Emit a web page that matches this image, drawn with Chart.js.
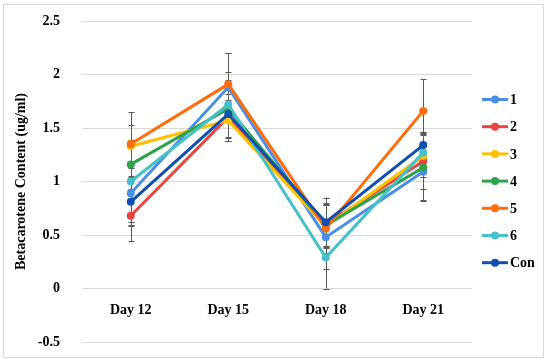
<!DOCTYPE html>
<html>
<head>
<meta charset="utf-8">
<script src="https://cdn.jsdelivr.net/npm/chart.js@4/dist/chart.umd.min.js"></script>
<style>
html,body{margin:0;padding:0;background:#fff;}
#wrap{width:550px;height:363px;position:relative;}
</style>
</head>
<body>
<div id="wrap"><canvas id="c" width="550" height="363"></canvas></div>
<script>
const categories = ['Day 12', 'Day 15', 'Day 18', 'Day 21'];
const seriesNames = ['1', '2', '3', '4', '5', '6', 'Con'];
const s1 = [0.89, 1.88, 0.48, 1.09];
const s2 = [0.68, 1.60, 0.60, 1.19];
const s3 = [1.33, 1.57, 0.58, 1.24];
const s4 = [1.16, 1.68, 0.59, 1.13];
const s5 = [1.35, 1.91, 0.56, 1.66];
const s6 = [1.00, 1.72, 0.29, 1.27];
const sCon = [0.81, 1.63, 0.62, 1.34];
const e1 = [0.30, 0.32, 0.30, 0.27];
const e2 = [0.24, 0.22, 0.20, 0.26];
const e3 = [0.20, 0.19, 0.20, 0.20];
const e4 = [0.23, 0.27, 0.19, 0.30];
const e5 = [0.30, 0.29, 0.23, 0.30];
const e6 = [0.38, 0.30, 0.29, 0.18];
const eCon = [0.23, 0.25, 0.23, 0.12];
const yTicks = [-0.5, 0, 0.5, 1, 1.5, 2, 2.5];

const colors = ['#4a8fe6', '#e8453c', '#ffc000', '#2fa24b', '#ff6d0a', '#46c1c8', '#0f4fad'];
const values = [s1, s2, s3, s4, s5, s6, sCon];
const errors = [e1, e2, e3, e4, e5, e6, eCon];

const FONT = '"Liberation Serif", "DejaVu Serif", serif';

const datasets = values.map((v, i) => ({
  label: seriesNames[i],
  data: v,
  borderColor: colors[i],
  backgroundColor: colors[i],
  borderWidth: 3,
  pointRadius: 4,
  pointBorderWidth: 0,
  pointHoverRadius: 4,
  tension: 0,
  order: values.length - 1 - i,
  errors: errors[i]
}));

const framePlugin = {
  id: 'frame',
  beforeDraw(chart) {
    const ctx = chart.ctx;
    ctx.save();
    ctx.fillStyle = '#fff';
    ctx.fillRect(0, 0, chart.width, chart.height);
    ctx.strokeStyle = '#d9d9d9';
    ctx.lineWidth = 1;
    ctx.strokeRect(3.5, 4.5, 540, 353);
    ctx.restore();
  }
};

const errorPlugin = {
  id: 'errbars',
  beforeDatasetsDraw(chart) {
    const ctx = chart.ctx;
    const y = chart.scales.y, x = chart.scales.x;
    ctx.save();
    ctx.strokeStyle = '#595959';
    ctx.lineWidth = 1;
    chart.data.datasets.forEach(ds => {
      ds.data.forEach((v, j) => {
        const e = ds.errors[j];
        const px = Math.round(x.getPixelForValue(j)) + 0.5;
        const top = y.getPixelForValue(v + e);
        const bot = y.getPixelForValue(v - e);
        ctx.beginPath();
        ctx.moveTo(px, top); ctx.lineTo(px, bot);
        ctx.moveTo(px - 3, Math.round(top) + 0.5); ctx.lineTo(px + 3, Math.round(top) + 0.5);
        ctx.moveTo(px - 3, Math.round(bot) + 0.5); ctx.lineTo(px + 3, Math.round(bot) + 0.5);
        ctx.stroke();
      });
    });
    ctx.restore();
  }
};

const legendPlugin = {
  id: 'sideLegend',
  afterDraw(chart) {
    const ctx = chart.ctx;
    ctx.save();
    ctx.font = 'bold 14px ' + FONT;
    ctx.textBaseline = 'middle';
    ctx.textAlign = 'left';
    chart.data.datasets.forEach((ds, i) => {
      const yy = 99.5 + i * 27.2;
      ctx.strokeStyle = ds.borderColor;
      ctx.lineWidth = 3;
      ctx.beginPath();
      ctx.moveTo(482, yy); ctx.lineTo(508, yy);
      ctx.stroke();
      ctx.fillStyle = ds.borderColor;
      ctx.beginPath();
      ctx.arc(495, yy, 4, 0, Math.PI * 2);
      ctx.fill();
      ctx.fillStyle = '#000';
      ctx.fillText(ds.label, 510, yy + 1);
    });
    ctx.restore();
  }
};

new Chart(document.getElementById('c'), {
  type: 'line',
  data: { labels: categories, datasets: datasets },
  options: {
    responsive: false,
    animation: false,
    layout: { padding: { left: 13, right: 78, top: 21, bottom: 21 } },
    plugins: { legend: { display: false }, tooltip: { enabled: false } },
    scales: {
      x: {
        position: { y: 0 },
        offset: true,
        grid: { display: false, drawTicks: false },
        border: { display: false },
        afterFit(scale) { scale.paddingLeft = 0; scale.paddingRight = 0; },
        ticks: { color: '#000', font: { family: FONT, size: 14, weight: 'bold' }, padding: 13, maxRotation: 0 }
      },
      y: {
        min: -0.5, max: 2.5,
        afterBuildTicks(scale) { scale.ticks = yTicks.map(v => ({ value: v })); },
        afterFit(scale) { scale.width = 69; scale.paddingTop = 0; scale.paddingBottom = 0; },
        grid: { color: '#d9d9d9', drawTicks: false },
        border: { display: false },
        ticks: { color: '#000', font: { family: FONT, size: 14, weight: 'bold' }, padding: 22,
          callback: v => String(v) },
        title: { display: true, text: 'Betacarotene Content (ug/ml)', color: '#000',
          font: { family: FONT, size: 14, weight: 'bold' }, padding: 0 }
      }
    }
  },
  plugins: [framePlugin, errorPlugin, legendPlugin]
});
</script>
</body>
</html>
